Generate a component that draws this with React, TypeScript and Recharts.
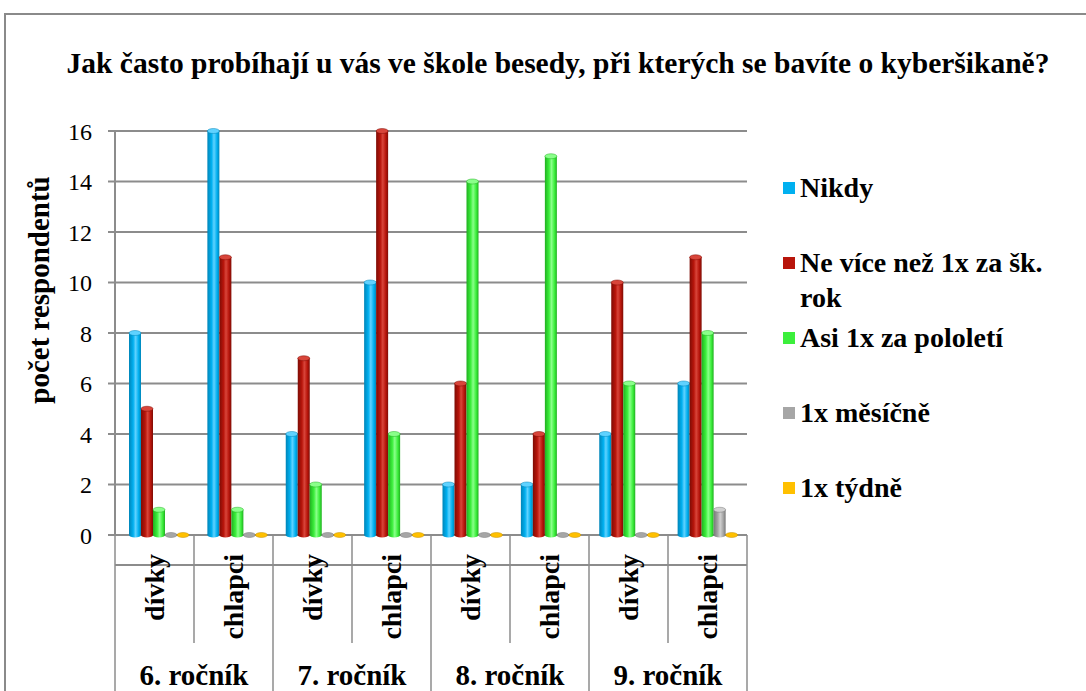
import React from "react";
import { BarChart, Bar, XAxis, YAxis, CartesianGrid, Legend } from "recharts";

const sexLabels = ["dívky", "chlapci", "dívky", "chlapci", "dívky", "chlapci", "dívky", "chlapci"];
const gradeLabels = ["6. ročník", "6. ročník", "7. ročník", "7. ročník", "8. ročník", "8. ročník", "9. ročník", "9. ročník"];
const nikdy = [8, 16, 4, 10, 2, 2, 4, 6];
const neVice = [5, 11, 7, 16, 6, 4, 10, 11];
const asi = [1, 1, 2, 4, 14, 15, 6, 8];
const mesicne = [0, 0, 0, 0, 0, 0, 0, 1];
const tydne = [0, 0, 0, 0, 0, 0, 0, 0];
const yTicks = [0, 2, 4, 6, 8, 10, 12, 14, 16];

const TITLE = "Jak často probíhají u vás ve škole besedy, při kterých se bavíte o kyberšikaně?";
const Y_LABEL = "počet respondentů";

const seriesDefs = [
  { key: "nikdy", name: "Nikdy", color: "#00B0F0", dark: "#0085B8", light: "#5FD2FF" },
  { key: "neVice", name: "Ne více než 1x za šk. rok", color: "#B8150B", dark: "#7E0C05", light: "#D8453A" },
  { key: "asi", name: "Asi 1x za pololetí", color: "#3CEF3C", dark: "#20B020", light: "#8AFF8A" },
  { key: "mesicne", name: "1x měsíčně", color: "#A6A6A6", dark: "#777777", light: "#D0D0D0" },
  { key: "tydne", name: "1x týdně", color: "#FFC000", dark: "#C08C00", light: "#FFD860" },
];

const data = sexLabels.map((s, i) => ({
  sex: s,
  grade: gradeLabels[i],
  nikdy: nikdy[i],
  neVice: neVice[i],
  asi: asi[i],
  mesicne: mesicne[i],
  tydne: tydne[i],
}));

const W = 1086;
const H = 691;
const PLOT_LEFT = 115;
const PLOT_RIGHT = 747;
const PLOT_TOP = 131;
const SEX_AXIS_H = 108;
const GRADE_AXIS_H = 48;
const PLOT_BOTTOM = H - SEX_AXIS_H - GRADE_AXIS_H;
const BAND = (PLOT_RIGHT - PLOT_LEFT) / data.length;
const SERIF = "'Liberation Serif', 'Times New Roman', serif";
const GRID = "#8c8c8c";

const makeShape = (def: any) => (props: any) => {
  const { x, y, width, height } = props;
  const cx = x + width / 2;
  const rx = width / 2;
  const ry = 2.5;
  if (!height || height < 1) {
    return (
      <ellipse cx={cx} cy={y + (height || 0)} rx={rx} ry={ry} fill={def.color} stroke={def.dark} strokeWidth={0.5} />
    );
  }
  return (
    <g>
      <rect x={x} y={y} width={width} height={height} fill={`url(#g-${def.key})`} />
      <ellipse cx={cx} cy={y + height} rx={rx} ry={ry} fill={`url(#g-${def.key})`} />
      <ellipse cx={cx} cy={y} rx={rx} ry={ry} fill={def.light} stroke={def.dark} strokeWidth={0.5} />
    </g>
  );
};

const SexTick = (props: any) => {
  const { x, payload, index } = props;
  const top = PLOT_BOTTOM;
  const left = x - BAND / 2;
  const right = x + BAND / 2;
  const ty = top + 19;
  return (
    <g>
      {index % 2 === 1 && <line x1={left} x2={left} y1={top} y2={top + SEX_AXIS_H} stroke={GRID} strokeWidth={1.5} />}
      <text
        x={x}
        y={ty}
        transform={`rotate(-90, ${x}, ${ty})`}
        textAnchor="end"
        dominantBaseline="central"
        fontFamily={SERIF}
        fontWeight="bold"
        fontSize={28}
        fill="#000"
      >
        {payload.value}
      </text>
      {index === data.length - 1 && (
        <line x1={right} x2={right} y1={top} y2={top + SEX_AXIS_H + GRADE_AXIS_H} stroke={GRID} strokeWidth={1.5} />
      )}
    </g>
  );
};

const GradeTick = (props: any) => {
  const { x, payload, index } = props;
  if (index % 2 !== 0) return <g />;
  const top = PLOT_BOTTOM + SEX_AXIS_H;
  const left = x - BAND / 2;
  return (
    <g>
      <line x1={left} x2={left} y1={PLOT_BOTTOM} y2={top + GRADE_AXIS_H} stroke={GRID} strokeWidth={1.5} />
      <text x={x + BAND / 2} y={top + 42} textAnchor="middle" fontFamily={SERIF} fontWeight="bold" fontSize={29} fill="#000">
        {payload.value}
      </text>
    </g>
  );
};

const YLabel = (props: any) => {
  const { viewBox } = props;
  const cx = 39;
  const cy = viewBox.y + viewBox.height / 2 - 43;
  return (
    <text
      x={cx}
      y={cy}
      transform={`rotate(-90, ${cx}, ${cy})`}
      textAnchor="middle"
      dominantBaseline="central"
      fontFamily={SERIF}
      fontWeight="bold"
      fontSize={29}
      fill="#000"
    >
      {Y_LABEL}
    </text>
  );
};

const LegendContent = () => (
  <div style={{ fontFamily: SERIF, fontWeight: "bold", fontSize: 28, color: "#000" }}>
    {seriesDefs.map((d) => (
      <div key={d.key} style={{ height: 75, display: "flex", alignItems: "flex-start" }}>
        <div style={{ width: 12, height: 12, background: d.color, marginTop: 12, marginRight: 5, flex: "none" }} />
        <div style={{ width: 268, lineHeight: "35px" }}>{d.name}</div>
      </div>
    ))}
  </div>
);

export default function App() {
  return (
    <div style={{ position: "absolute", left: 0, top: 0, width: W, height: H, background: "#fff", overflow: "hidden" }}>
      <div
        style={{
          position: "absolute",
          left: 4,
          top: 13,
          width: W + 20,
          height: H + 20,
          border: "2px solid #8a8a8a",
          boxSizing: "border-box",
        }}
      />
      <div
        style={{
          position: "absolute",
          left: 0,
          top: 47,
          width: 1116,
          textAlign: "center",
          fontFamily: SERIF,
          fontWeight: "bold",
          fontSize: 29.5,
          color: "#000",
          whiteSpace: "nowrap",
        }}
      >
        {TITLE}
      </div>
      <div style={{ position: "absolute", left: 0, top: 0 }}>
        <BarChart
          width={W}
          height={H}
          data={data}
          margin={{ top: PLOT_TOP, right: W - PLOT_RIGHT, left: 0, bottom: 0 }}
          barGap={0}
          barSize={12}
        >
          <defs>
            {seriesDefs.map((d) => (
              <linearGradient key={d.key} id={`g-${d.key}`} x1="0" y1="0" x2="1" y2="0">
                <stop offset="0%" stopColor={d.dark} />
                <stop offset="35%" stopColor={d.color} />
                <stop offset="55%" stopColor={d.light} />
                <stop offset="80%" stopColor={d.color} />
                <stop offset="100%" stopColor={d.dark} />
              </linearGradient>
            ))}
          </defs>
          <CartesianGrid horizontal vertical={false} stroke={GRID} strokeWidth={2} xAxisId="x1" yAxisId="y" />
          <XAxis
            xAxisId="x1"
            dataKey="sex"
            height={SEX_AXIS_H}
            tick={<SexTick />}
            tickLine={false}
            tickSize={0}
            tickMargin={0}
            axisLine={{ stroke: GRID, strokeWidth: 2 }}
            interval={0}
          />
          <XAxis
            xAxisId="x2"
            dataKey="grade"
            height={GRADE_AXIS_H}
            tick={<GradeTick />}
            tickLine={false}
            tickSize={0}
            tickMargin={0}
            axisLine={false}
            interval={0}
          />
          <XAxis xAxisId="x0" dataKey="sex" hide padding={{ left: 5, right: 0 }} />
          <YAxis
            yAxisId="y"
            width={PLOT_LEFT}
            domain={[0, 16]}
            ticks={yTicks}
            interval={0}
            tickSize={7}
            tickMargin={16}
            tickLine={{ stroke: GRID, strokeWidth: 2 }}
            axisLine={{ stroke: GRID, strokeWidth: 2 }}
            tick={{ fontFamily: SERIF, fontSize: 24, fill: "#000" }}
            label={<YLabel />}
          />
          {seriesDefs.map((d) => (
            <Bar
              key={d.key}
              dataKey={d.key}
              name={d.name}
              xAxisId="x0"
              yAxisId="y"
              fill={d.color}
              shape={makeShape(d)}
              isAnimationActive={false}
            />
          ))}
          <Legend
            layout="vertical"
            align="center"
            verticalAlign="middle"
            content={<LegendContent />}
            wrapperStyle={{ position: "absolute", left: 783, top: 170, width: 300 }}
          />
        </BarChart>
      </div>
    </div>
  );
}
